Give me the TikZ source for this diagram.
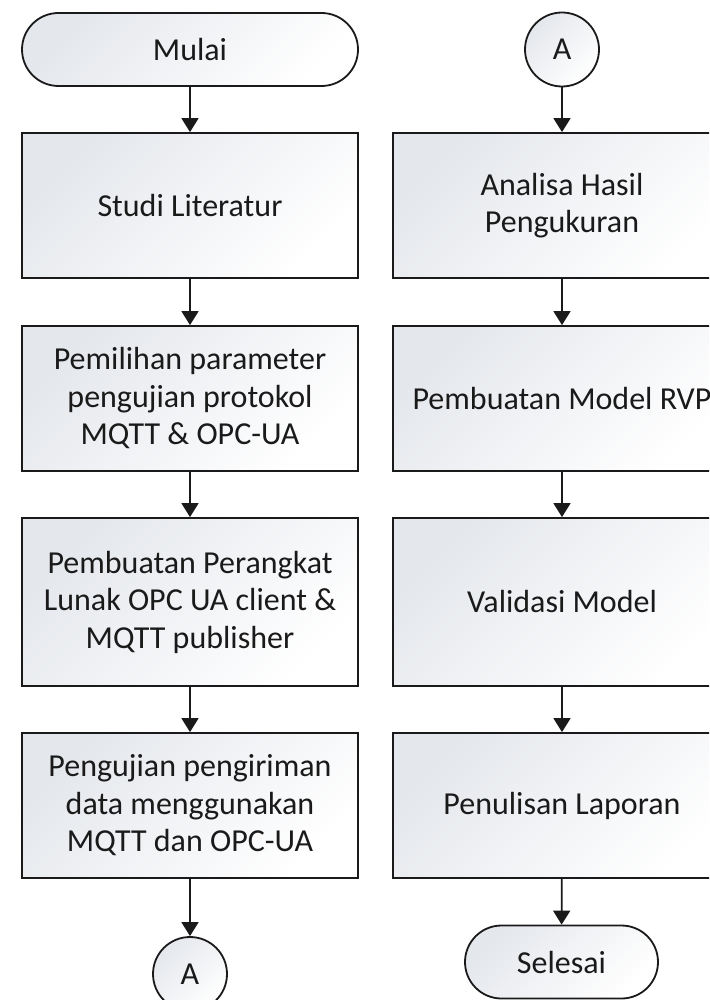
\documentclass[tikz,border=0pt]{standalone}
\usepackage{fontspec}
\setmainfont{Carlito}
\usetikzlibrary{arrows.meta,shapes.misc}
\definecolor{gradtop}{HTML}{E4E7EC}
\definecolor{linecol}{HTML}{1A1A1A}
\begin{document}
\begin{tikzpicture}[x=1pt,y=-1pt,
  every node/.style={font=\fontsize{32}{37.5}\selectfont, text=linecol},
  shadedfill/.style={draw=linecol, line width=1.8pt, top color=gradtop, bottom color=white, shading angle=45},
  procbox/.style={shadedfill, rectangle, inner sep=0pt, align=center, minimum width=336pt, minimum height=145pt},
  tallbox/.style={procbox, minimum height=168pt},
  termbox/.style={shadedfill, rounded rectangle, inner sep=0pt, minimum height=73pt},
  connbox/.style={shadedfill, circle, inner sep=0pt, minimum size=74pt},
  flow/.style={draw=linecol, line width=1.8pt, -{Triangle[length=14pt,width=17pt]}}
]
\useasboundingbox (0,0) rectangle (709,1000);
\clip (0,0) rectangle (709,1000);

% left column
\node[termbox, minimum width=336pt] (mulai) at (190,49.5) {Mulai};
\node[procbox] (studi) at (190,205.5) {Studi Literatur};
\node[procbox] (pilih) at (190,398.5) {Pemilihan parameter\\pengujian protokol\\MQTT \& OPC-UA};
\node[tallbox] (buat) at (190,602) {Pembuatan Perangkat\\Lunak OPC UA client \&\\MQTT publisher};
\node[procbox] (uji) at (190,805.5) {Pengujian pengiriman\\data menggunakan\\MQTT dan OPC-UA};
\node[connbox] (a1) at (190,974) {A};

% right column
\node[connbox] (a2) at (562,49.5) {A};
\node[procbox, minimum width=338pt] (analisa) at (562,205.5) {Analisa Hasil\\Pengukuran};
\node[procbox, minimum width=338pt] (rvp) at (562,398.5) {Pembuatan Model RVP};
\node[tallbox, minimum width=338pt] (valid) at (562,602) {Validasi Model};
\node[procbox, minimum width=338pt] (tulis) at (562,805.5) {Penulisan Laporan};
\node[termbox, minimum width=193pt] (selesai) at (561.5,962) {Selesai};

% connectors
\draw[flow] (mulai) -- (studi);
\draw[flow] (studi) -- (pilih);
\draw[flow] (pilih) -- (buat);
\draw[flow] (buat) -- (uji);
\draw[flow] (uji) -- (a1);
\draw[flow] (a2) -- (analisa);
\draw[flow] (analisa) -- (rvp);
\draw[flow] (rvp) -- (valid);
\draw[flow] (valid) -- (tulis);
\draw[flow] (tulis) -- (selesai);
\end{tikzpicture}
\end{document}
